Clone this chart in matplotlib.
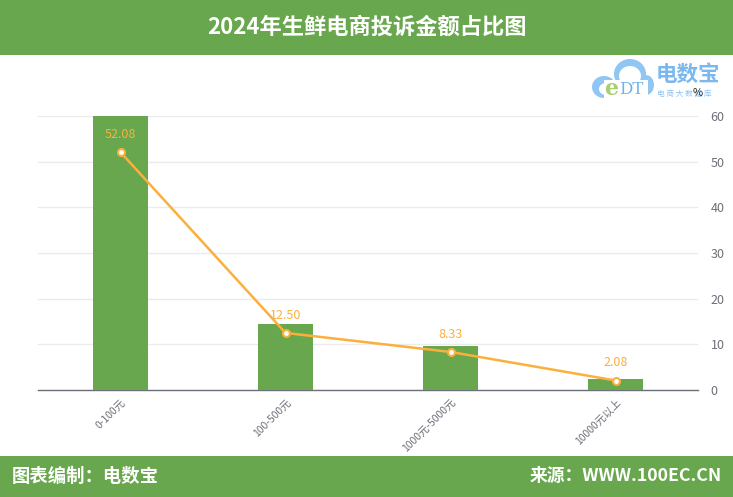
import matplotlib
matplotlib.use("Agg")
import matplotlib.pyplot as plt
from matplotlib.patches import Rectangle, Ellipse
import numpy as np

plt.rcParams['font.family'] = ['Noto Sans CJK SC', 'DejaVu Sans']

# ---- data ----
title = "2024年生鲜电商投诉金额占比图"
categories = ["0-100元", "100-500元", "1000元-5000元", "10000元以上"]
complaint_counts = [25, 6, 4, 1]            # bar series (hidden left scale)
share_pct = [52.08, 12.50, 8.33, 2.08]      # line series (right scale, %)
right_ticks = [0, 10, 20, 30, 40, 50, 60]
footer_left = "图表编制：电数宝"
footer_right = "来源：WWW.100EC.CN"

W, H = 733, 497
GREEN = "#68a74d"
ORANGE = "#fbb03c"
GREY = "#6e7079"

fig = plt.figure(figsize=(W / 100, H / 100), dpi=100)
fig.patch.set_facecolor("white")


def fx(x):
    return x / W


def fy(y):
    return 1 - y / H


# header and footer bands
fig.add_artist(Rectangle((0, fy(55)), 1, 55 / H, transform=fig.transFigure,
                         facecolor=GREEN, edgecolor="none", zorder=0))
fig.add_artist(Rectangle((0, 0), 1, (H - 456) / H, transform=fig.transFigure,
                         facecolor=GREEN, edgecolor="none", zorder=0))
fig.text(0.5, fy(27), title, ha="center", va="center", color="white",
         fontsize=16, fontweight="bold")
fig.text(fx(12), fy(476), footer_left, ha="left", va="center", color="white",
         fontsize=13.2, fontweight="bold")
fig.text(fx(722), fy(476), footer_right, ha="right", va="center", color="white",
         fontsize=12.8, fontweight="bold")

# logo: cloud outline with brand text
cloud_c = "#8fc6f3"
for (cx, cy, w, h) in [(630, 74, 32, 30), (604, 87, 24, 22), (646, 85, 16, 20)]:
    fig.add_artist(Ellipse((fx(cx), fy(cy)), w / W, h / H, transform=fig.transFigure,
                           facecolor=cloud_c, edgecolor="none", zorder=3))
for (cx, cy, w, h) in [(630, 76, 22, 20), (606, 89, 14, 12), (644, 87, 8, 10)]:
    fig.add_artist(Ellipse((fx(cx), fy(cy)), w / W, h / H, transform=fig.transFigure,
                           facecolor="white", edgecolor="none", zorder=3.5))
fig.add_artist(Rectangle((fx(604), fy(98)), 44 / W, 18 / H, transform=fig.transFigure,
                         facecolor="white", edgecolor="none", zorder=4))
fig.text(fx(604), fy(89), "e", color="#a9cf72", fontsize=16, fontweight="bold",
         ha="left", va="center", zorder=5, family="DejaVu Serif")
fig.text(fx(619), fy(89), "DT", color="#6fb2ea", fontsize=12,
         ha="left", va="center", zorder=5, family="DejaVu Serif")
fig.text(fx(656), fy(74), "电数宝", color="#7ab8ef", fontsize=15.5, fontweight="bold",
         ha="left", va="center", zorder=5)
fig.text(fx(657), fy(94), "电 商 大 数 据 库", color="#8ec3ef", fontsize=5.5,
         ha="left", va="center", zorder=5)
fig.text(fx(698), fy(93), "%", color="#333333", fontsize=8,
         ha="center", va="center", zorder=6)

# ---- axes ----
left, right, bottom, top = 38, 698, 390, 116
rect = [fx(left), fy(bottom), (right - left) / W, (bottom - top) / H]

ax = fig.add_axes(rect)
x = np.arange(len(categories))
ax.set_xlim(-0.5, len(categories) - 0.5)
ax.set_ylim(0, 60)

# bars on a hidden count scale
axb = ax.twinx()
axb.set_ylim(0, 25)
axb.bar(x, complaint_counts, width=0.333, color=GREEN, zorder=2)
axb.set_axis_off()
axb.set_xlim(ax.get_xlim())

# percentage line
axl = ax.twinx()
axl.set_ylim(0, 60)
axl.set_xlim(ax.get_xlim())
axl.plot(x, share_pct, color=ORANGE, lw=1.8, marker="o", ms=5,
         mfc="white", mec=ORANGE, mew=1.5, zorder=3)
for xi, v in zip(x, share_pct):
    axl.annotate(f"{v:.2f}", (xi, v), xytext=(0, 8), textcoords="offset points",
                 ha="center", va="bottom", color=ORANGE, fontsize=9)
axl.set_axis_off()

# base axis: grid, percentage ticks on the right, category labels
ax.set_yticks(right_ticks)
ax.yaxis.tick_right()
ax.tick_params(axis="y", which="both", left=False, right=False, labelleft=False,
               labelright=True, length=0, pad=9, labelsize=9, labelcolor=GREY)
ax.grid(axis="y", color="#ebebeb", lw=1)
ax.set_axisbelow(True)
for s in ["left", "right", "top"]:
    ax.spines[s].set_visible(False)
ax.spines["bottom"].set_color(GREY)
ax.spines["bottom"].set_linewidth(1)
ax.set_xticks(x)
ax.set_xticklabels(categories, rotation=45, ha="right", va="top",
                   rotation_mode="anchor", fontsize=7.5, color=GREY)
ax.tick_params(axis="x", length=0, pad=5)

fig.savefig("out.png", dpi=100)
